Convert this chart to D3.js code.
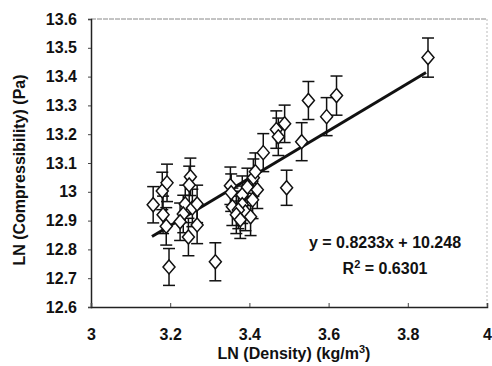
<!DOCTYPE html>
<html>
<head>
<meta charset="utf-8">
<script src="https://cdn.jsdelivr.net/npm/d3@7"></script>
<style>
  body { margin: 0; background: #fff; }
  text { font-family: "Liberation Sans", Arial, sans-serif; font-weight: bold; fill: #111; }
</style>
</head>
<body>
<div id="chart"></div>
<script>
// density (ln) of each sample
const lnDensity = [3.157, 3.182, 3.180, 3.192, 3.197, 3.190, 3.251, 3.248, 3.238, 3.256,
  3.268, 3.233, 3.246, 3.268, 3.225, 3.314, 3.352, 3.354, 3.357, 3.382,
  3.395, 3.382, 3.390, 3.403, 3.372, 3.408, 3.410, 3.415, 3.435, 3.468,
  3.473, 3.489, 3.532, 3.494, 3.549, 3.595, 3.620, 3.851, 3.367, 3.377, 3.420];
// compressibility (ln) of each sample
const lnCompress = [12.955, 12.920, 13.003, 13.031, 12.739, 12.880, 13.052, 13.024, 12.958, 12.944,
  12.958, 12.923, 12.843, 12.885, 12.896, 12.757, 13.021, 12.997, 12.948, 12.990,
  13.017, 12.955, 12.930, 12.913, 12.937, 12.972, 13.049, 13.070, 13.136, 13.216,
  13.191, 13.236, 13.174, 13.014, 13.317, 13.261, 13.334, 13.466, 12.920, 12.903, 13.007];
// error bar half-height
const errBar = [0.063, 0.065, 0.065, 0.065, 0.064, 0.065, 0.065, 0.065, 0.065, 0.065,
  0.065, 0.065, 0.065, 0.065, 0.065, 0.066, 0.065, 0.065, 0.065, 0.065,
  0.065, 0.065, 0.065, 0.065, 0.065, 0.065, 0.065, 0.065, 0.066, 0.065,
  0.065, 0.065, 0.066, 0.061, 0.066, 0.066, 0.068, 0.068, 0.065, 0.065, 0.065];

const xTicks = [3, 3.2, 3.4, 3.6, 3.8, 4];
const yTicks = [12.6, 12.7, 12.8, 12.9, 13, 13.1, 13.2, 13.3, 13.4, 13.5, 13.6];

// trend line y = 0.8233x + 10.248
const slope = 0.8233, intercept = 10.248;
const trendX = [3.154, 3.846];

const W = 492, H = 366, m = { t: 19, r: 5, b: 59, l: 91 };

const svg = d3.select('#chart').append('svg').attr('width', W).attr('height', H);

const x = d3.scaleLinear().domain([3, 4]).range([m.l, W - m.r]);
const y = d3.scaleLinear().domain([12.6, 13.6]).range([H - m.b, m.t]);

// plot area border (top/right faint)
svg.append('line').attr('x1', x(3)).attr('x2', x(4)).attr('y1', y(13.6)).attr('y2', y(13.6))
  .attr('stroke', '#888').attr('stroke-width', 1).attr('stroke-dasharray', '5,1');
svg.append('line').attr('x1', x(4)).attr('x2', x(4)).attr('y1', y(13.6)).attr('y2', y(12.6))
  .attr('stroke', '#bbb').attr('stroke-width', 1).attr('stroke-dasharray', '2,2');

// axes
const yAxis = svg.append('g').attr('transform', `translate(${m.l},0)`)
  .call(d3.axisLeft(y).tickValues(yTicks).tickSize(3).tickPadding(11).tickFormat(d3.format('')));
const xAxis = svg.append('g').attr('transform', `translate(0,${H - m.b})`)
  .call(d3.axisBottom(x).tickValues(xTicks).tickSize(-4).tickPadding(22).tickFormat(d3.format('')));
[xAxis, yAxis].forEach(g => {
  g.select('.domain').attr('stroke', '#222').attr('stroke-width', 1.5);
  g.selectAll('.tick line').attr('stroke', '#444');
  g.selectAll('.tick text').attr('font-size', 16).attr('font-family', '"Liberation Sans", Arial, sans-serif')
    .attr('font-weight', 'bold').attr('fill', '#111');
});

// trend line
svg.append('line')
  .attr('x1', x(trendX[0])).attr('y1', y(slope * trendX[0] + intercept))
  .attr('x2', x(trendX[1])).attr('y2', y(slope * trendX[1] + intercept))
  .attr('stroke', '#111').attr('stroke-width', 3);

const pts = lnDensity.map((d, i) => ({ x: d, y: lnCompress[i], e: errBar[i] }));

// error bars
const eb = svg.append('g').attr('stroke', '#111').attr('stroke-width', 1.5);
pts.forEach(p => {
  const cx = x(p.x), top = y(p.y + p.e), bot = y(p.y - p.e);
  eb.append('line').attr('x1', cx).attr('x2', cx).attr('y1', top).attr('y2', bot);
  eb.append('line').attr('x1', cx - 6).attr('x2', cx + 6).attr('y1', top).attr('y2', top);
  eb.append('line').attr('x1', cx - 6).attr('x2', cx + 6).attr('y1', bot).attr('y2', bot);
});

// diamond markers
svg.append('g').selectAll('path').data(pts).enter().append('path')
  .attr('d', 'M0,-7L6,0L0,7L-6,0Z')
  .attr('transform', p => `translate(${x(p.x)},${y(p.y)})`)
  .attr('fill', '#fff').attr('stroke', '#111').attr('stroke-width', 1.5);

// equation
svg.append('text').attr('x', 385).attr('y', 248).attr('text-anchor', 'middle').attr('font-size', 16)
  .text('y = 0.8233x + 10.248');
const r2 = svg.append('text').attr('x', 385).attr('y', 274).attr('text-anchor', 'middle').attr('font-size', 16);
r2.append('tspan').text('R');
r2.append('tspan').attr('dy', -6).attr('font-size', 11).text('2');
r2.append('tspan').attr('dy', 6).text(' = 0.6301');

// axis titles
const xt = svg.append('text').attr('x', 294).attr('y', 359).attr('text-anchor', 'middle').attr('font-size', 16);
xt.append('tspan').text('LN (Density) (kg/m');
xt.append('tspan').attr('dy', -6).attr('font-size', 11).text('3');
xt.append('tspan').attr('dy', 6).text(')');

svg.append('text').attr('transform', 'translate(25,170) rotate(-90)')
  .attr('text-anchor', 'middle').attr('font-size', 16)
  .text('LN (Compressibility) (Pa)');
</script>
</body>
</html>
